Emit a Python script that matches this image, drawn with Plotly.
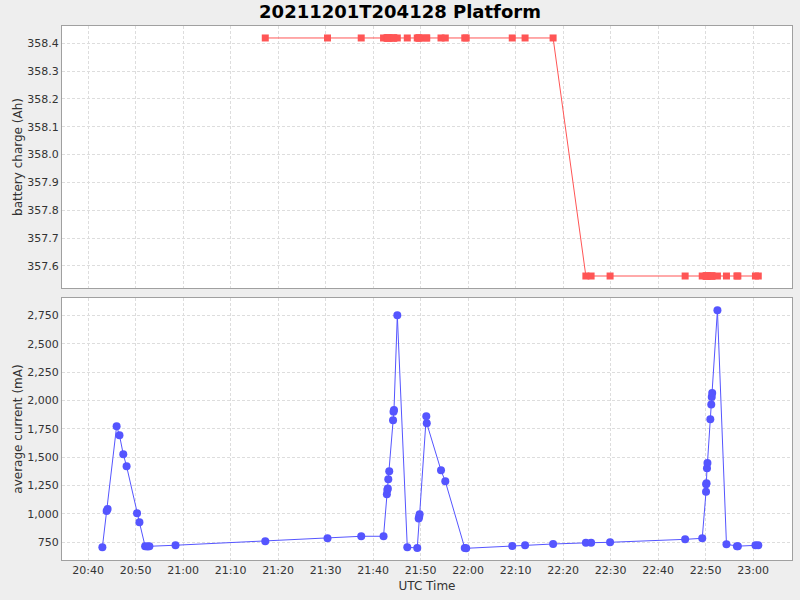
import plotly.graph_objects as go
from plotly.subplots import make_subplots

DATE = "2021-12-01 "

times = [
    "20:43:00", "20:43:54", "20:44:06", "20:46:00", "20:46:36", "20:47:24", "20:48:06",
    "20:50:18", "20:50:48", "20:52:00", "20:52:30", "20:52:54", "20:58:24",
    "21:17:18", "21:30:24", "21:37:30", "21:42:12", "21:42:54", "21:43:00", "21:43:06",
    "21:43:12", "21:43:24", "21:44:12", "21:44:18", "21:44:24", "21:45:06", "21:47:12",
    "21:49:18", "21:49:36", "21:49:42", "21:49:48", "21:51:12", "21:51:18", "21:54:18",
    "21:55:12", "21:59:18", "21:59:36", "22:09:18", "22:12:00", "22:17:54", "22:24:48",
    "22:25:54", "22:29:54", "22:45:42", "22:49:18", "22:50:06", "22:50:08", "22:50:12",
    "22:50:18", "22:50:24", "22:51:00", "22:51:12", "22:51:18", "22:51:24", "22:52:30",
    "22:54:24", "22:56:36", "22:56:48", "23:00:30", "23:01:06",
]

current_ma = [
    706, 1026, 1043, 1772, 1693, 1525, 1420,
    1005, 926, 715, 713, 715, 724,
    759, 785, 803, 803, 1173, 1210, 1225,
    1305, 1375, 1825, 1900, 1915, 2750, 706,
    700, 960, 975, 997, 1860, 1798, 1384,
    1287, 700, 697, 717, 724, 735, 745,
    745, 750, 776, 785, 1196, 1261, 1270,
    1402, 1449, 1834, 1963, 2030, 2065, 2794,
    732, 716, 716, 723, 723,
]

charge_times = times[13:]
charge_ah = [358.419] * 27 + [357.564] * 20

x_tick_labels = ["20:40", "20:50", "21:00", "21:10", "21:20", "21:30", "21:40", "21:50",
                 "22:00", "22:10", "22:20", "22:30", "22:40", "22:50", "23:00"]

TEXT = "#333333"
FONT = "DejaVu Sans"
GRID = "#dddddd"
BORDER = "#a0a0a0"

fig = make_subplots(rows=2, cols=1, shared_xaxes=True, vertical_spacing=0.0188)

fig.add_trace(go.Scatter(
    x=[DATE + t for t in charge_times], y=charge_ah, mode="lines+markers",
    line=dict(color="#ff5555", width=1),
    marker=dict(symbol="square", size=7, color="#ff5555"),
    showlegend=False), row=1, col=1)

fig.add_trace(go.Scatter(
    x=[DATE + t for t in times], y=current_ma, mode="lines+markers",
    line=dict(color="#5555ff", width=1),
    marker=dict(symbol="circle", size=8, color="#5555ff"),
    showlegend=False), row=2, col=1)

xrange = [DATE + "20:34:30", DATE + "23:08:12"]
tickvals = [DATE + t + ":00" for t in x_tick_labels]

axis_common = dict(
    showgrid=True, gridcolor=GRID, griddash="3px,2px", gridwidth=1,
    showline=True, linecolor=BORDER, linewidth=1, mirror=True,
    zeroline=False, ticks="", automargin=False,
    tickfont=dict(family=FONT, size=11, color=TEXT),
)

fig.update_xaxes(range=xrange, tickvals=tickvals, ticktext=x_tick_labels, **axis_common)
fig.update_xaxes(showticklabels=False, row=1, col=1)
fig.update_xaxes(title=dict(text="UTC Time", font=dict(family=FONT, size=12, color=TEXT), standoff=5),
                 row=2, col=1)

fig.update_yaxes(range=[357.521, 358.462], dtick=0.1, tick0=357.6, tickformat=".1f",
                 title=dict(text="battery charge (Ah)", font=dict(family=FONT, size=12, color=TEXT), standoff=2),
                 row=1, col=1, **axis_common)
fig.update_yaxes(range=[594, 2902], dtick=250, tick0=750, tickformat=",d",
                 title=dict(text="average current (mA)", font=dict(family=FONT, size=12, color=TEXT), standoff=2),
                 row=2, col=1, **axis_common)

fig.update_layout(
    width=800, height=600,
    margin=dict(l=62, r=8, t=26, b=40, autoexpand=False),
    paper_bgcolor="#eeeeee", plot_bgcolor="#ffffff",
    title=dict(text="<b>20211201T204128 Platform</b>", x=0.5, xanchor="center",
               y=0.98, yanchor="middle",
               font=dict(family=FONT, size=18, color="#000000")),
    font=dict(family=FONT, color=TEXT),
)

fig.write_html(
    "out.html",
    config={"displayModeBar": False},
    post_script="document.body.style.margin='0';document.body.style.background='#eeeeee';",
)
